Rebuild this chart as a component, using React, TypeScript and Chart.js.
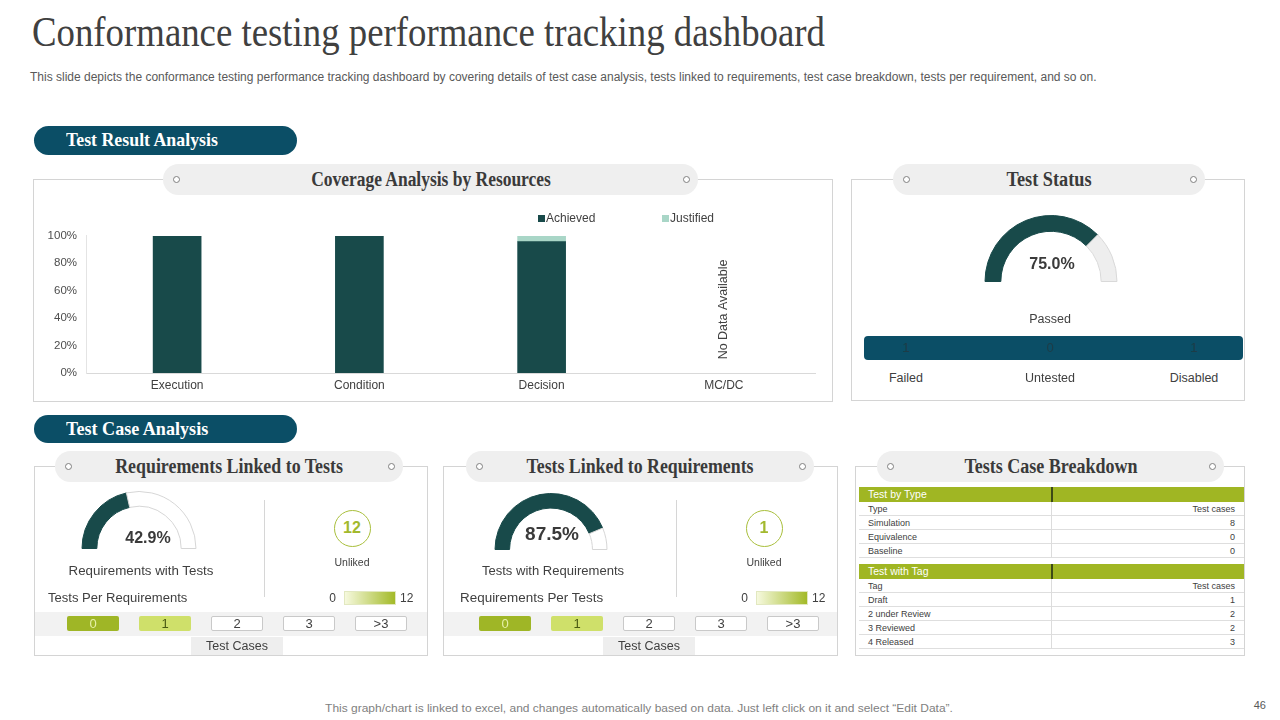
import React, { useEffect, useLayoutEffect, useRef } from 'react';
import { Chart, registerables } from 'chart.js';

Chart.register(...registerables);

// ---- data ----
const coverageCategories = ['Execution', 'Condition', 'Decision', 'MC/DC'];
const coverageSeries = ['Achieved', 'Justified'];
const achievedPct: (number | null)[] = [100, 100, 95.8, null];
const justifiedPct: (number | null)[] = [0, 0, 4.2, null];
const noDataLabel = 'No Data Available';

const passedPct = 75;
const statusLabels = ['Failed', 'Untested', 'Disabled'];
const statusCounts = [1, 0, 1];

const reqWithTestsPct = 42.9;
const reqUnlinked = 12;
const testsWithReqPct = 87.5;
const testsUnlinked = 1;
const unlinkedRange = [0, 12];
const linkBuckets = ['0', '1', '2', '3', '>3'];

const typeNames = ['Simulation', 'Equivalence', 'Baseline'];
const typeCounts = [8, 0, 0];
const tagNames = ['Draft', '2 under Review', '3 Reviewed', '4 Released'];
const tagCounts = [1, 2, 2, 3];

// ---- styling ----
const SANS = '"Liberation Sans", Arial, sans-serif';
const SERIF = '"Liberation Serif", "Times New Roman", serif';
const DARK_TEAL = '#184a4a';
const MINT = '#a9d6c7';
const PETROL = '#0b4e66';
const OLIVE = '#9fb626';
const LIME = '#cfe06a';
const BORDER = '#d4d4d4';

Chart.defaults.font.family = SANS;

type Align = 'left' | 'center' | 'right';
type TxtProps = {
  x: number; cy: number; text: string | number; size: number;
  color?: string; weight?: number | string; family?: string; align?: Align; fit?: number;
};

function Txt({ x, cy, text, size, color = '#404040', weight = 400, family = SANS, align = 'left', fit }: TxtProps) {
  const ref = useRef<HTMLSpanElement>(null);
  const shift = align === 'center' ? 'translateX(-50%)' : align === 'right' ? 'translateX(-100%)' : '';
  useLayoutEffect(() => {
    const el = ref.current;
    if (!el || !fit) return;
    const natural = el.offsetWidth;
    if (natural > 0) el.style.transform = `${shift} scaleX(${fit / natural})`;
  }, [fit, text, shift]);
  return (
    <span
      ref={ref}
      style={{
        position: 'absolute', left: x, top: cy - size * 0.6, fontSize: size,
        lineHeight: `${size * 1.2}px`, fontFamily: family, fontWeight: weight as any, color,
        whiteSpace: 'nowrap', transform: shift || undefined,
        transformOrigin: align === 'center' ? '50% 50%' : align === 'right' ? '100% 50%' : '0 50%',
      }}
    >
      {text}
    </span>
  );
}

function Box({ x1, y1, x2, y2, style }: { x1: number; y1: number; x2: number; y2: number; style?: React.CSSProperties }) {
  return <div style={{ position: 'absolute', left: x1, top: y1, width: x2 - x1, height: y2 - y1, boxSizing: 'border-box', ...style }} />;
}

function Dot({ cx, cy }: { cx: number; cy: number }) {
  return <Box x1={cx - 3.5} y1={cy - 3.5} x2={cx + 3.5} y2={cy + 3.5} style={{ border: '1px solid #808080', borderRadius: '50%', background: '#fff' }} />;
}

function HeaderPill({ x1, x2, y1, y2, title, titleW }: { x1: number; x2: number; y1: number; y2: number; title: string; titleW: number }) {
  const cy = (y1 + y2) / 2;
  return (
    <>
      <Box x1={x1} y1={y1} x2={x2} y2={y2} style={{ background: '#efefef', borderRadius: (y2 - y1) / 2 }} />
      <Dot cx={x1 + 13} cy={cy} />
      <Dot cx={x2 - 12} cy={cy} />
      <Txt x={(x1 + x2) / 2} cy={cy - 1} text={title} size={20} weight={700} family={SERIF} color="#3a3a3a" align="center" fit={titleW} />
    </>
  );
}

function SectionPill({ y1, y2, title, titleW }: { y1: number; y2: number; title: string; titleW: number }) {
  return (
    <>
      <Box x1={34} y1={y1} x2={297} y2={y2} style={{ background: PETROL, borderRadius: (y2 - y1) / 2 }} />
      <Txt x={66} cy={(y1 + y2) / 2} text={title} size={19} weight={700} family={SERIF} color="#ffffff" fit={titleW} />
    </>
  );
}

// Half-doughnut gauge drawn by Chart.js
function Gauge({ cx, baseY, r, pct, cutout, rest, restBorder }: {
  cx: number; baseY: number; r: number; pct: number; cutout: string; rest: string; restBorder: string;
}) {
  const ref = useRef<HTMLCanvasElement>(null);
  const w = 2 * r + 2;
  const h = r + 1;
  useEffect(() => {
    const chart = new Chart(ref.current!, {
      type: 'doughnut',
      data: {
        labels: ['value', 'rest'],
        datasets: [{
          data: [pct, 100 - pct],
          backgroundColor: [DARK_TEAL, rest],
          borderColor: [DARK_TEAL, restBorder],
          borderWidth: 1,
        }],
      },
      options: {
        animation: false,
        responsive: false,
        rotation: -90,
        circumference: 180,
        cutout,
        layout: { padding: 0 },
        plugins: { legend: { display: false }, tooltip: { enabled: false } },
      },
    });
    return () => chart.destroy();
  }, [pct, cutout, rest, restBorder]);
  return <canvas ref={ref} width={w} height={h} style={{ position: 'absolute', left: cx - w / 2, top: baseY - h, width: w, height: h }} />;
}

// Vertical note for categories without data
const noDataPlugin = {
  id: 'noDataNote',
  afterDatasetsDraw(chart: any) {
    const { ctx, chartArea, scales } = chart;
    const values = chart.data.datasets[0].data as (number | null)[];
    values.forEach((v, i) => {
      if (v !== null) return;
      const x = scales.x.getPixelForValue(i);
      const y = (chartArea.top + chartArea.bottom) / 2 + 5;
      ctx.save();
      ctx.translate(x, y);
      ctx.rotate(-Math.PI / 2);
      ctx.font = `12.5px ${SANS}`;
      ctx.fillStyle = '#404040';
      ctx.textAlign = 'center';
      ctx.textBaseline = 'middle';
      ctx.fillText(noDataLabel, 0, 0);
      ctx.restore();
    });
  },
};

function CoverageChart() {
  const ref = useRef<HTMLCanvasElement>(null);
  useEffect(() => {
    const chart = new Chart(ref.current!, {
      type: 'bar',
      data: {
        labels: coverageCategories,
        datasets: [
          { label: coverageSeries[0], data: achievedPct, backgroundColor: DARK_TEAL, barThickness: 48 },
          { label: coverageSeries[1], data: justifiedPct, backgroundColor: MINT, barThickness: 48 },
        ],
      },
      options: {
        animation: false,
        responsive: false,
        maintainAspectRatio: false,
        layout: { padding: { top: 8, right: 11, bottom: 6.6, left: 0 } },
        plugins: { legend: { display: false }, tooltip: { enabled: false } },
        scales: {
          x: {
            stacked: true,
            grid: { display: false, drawTicks: false },
            border: { display: true, color: '#d9d9d9' },
            ticks: { padding: 5, color: '#404040', font: { size: 12 } },
          },
          y: {
            stacked: true,
            min: 0,
            max: 100,
            grid: { display: false, drawTicks: false },
            border: { display: true, color: '#e4e4e4' },
            ticks: { stepSize: 20, padding: 9, color: '#4d4d4d', font: { size: 11.5 }, callback: (v: any) => `${v}%` },
            afterFit: (s: any) => { s.width = 50; },
          },
        },
      } as any,
      plugins: [noDataPlugin],
    });
    return () => chart.destroy();
  }, []);
  return <canvas ref={ref} width={790} height={184} style={{ position: 'absolute', left: 36, top: 220, width: 790, height: 184 }} />;
}

function LinkPanel({ dx, boxL, boxR, pct, pctSize, pctX, pctY, gaugeCx, gaugeBase, r, caption, captionW, perLabel, perW, unlinked }: {
  dx: number; boxL: number; boxR: number; pct: number; pctSize: number; pctX: number; pctY: number; gaugeCx: number; gaugeBase: number; r: number;
  caption: string; captionW: number; perLabel: string; perW: number; unlinked: number;
}) {
  const btnFill = [OLIVE, LIME, '#ffffff', '#ffffff', '#ffffff'];
  const btnText = ['#e6f0a8', '#4a5a12', '#404040', '#404040', '#404040'];
  return (
    <>
      <Gauge cx={gaugeCx} baseY={gaugeBase} r={r} pct={pct} cutout="74%" rest="#ffffff" restBorder="#d6d6d6" />
      <Txt x={pctX} cy={pctY} text={`${pct.toFixed(1)}%`} size={pctSize} weight={700} color="#3a3a3a" align="center" />
      <Txt x={141 + dx} cy={571} text={caption} size={12.5} align="center" fit={captionW} />
      <Box x1={264 + dx} y1={500} x2={265 + dx} y2={597} style={{ background: '#d6d6d6' }} />
      <Box x1={333.5 + dx} y1={509.5} x2={370.5 + dx} y2={546.5} style={{ border: '1px solid #a9bf3c', borderRadius: '50%' }} />
      <Txt x={352 + dx} cy={528} text={unlinked} size={16} weight={700} color="#a3b92e" align="center" />
      <Txt x={352 + dx} cy={562} text="Unliked" size={10.5} align="center" />
      <Txt x={336 + dx} cy={598} text={unlinkedRange[0]} size={12} align="right" />
      <Box x1={344 + dx} y1={591} x2={396 + dx} y2={605} style={{ background: 'linear-gradient(to right, #f6f9de, #a3ba28)', border: '1px solid #e2e8c0' }} />
      <Txt x={400 + dx} cy={598} text={unlinkedRange[1]} size={12} />
      <Txt x={48 + dx} cy={598} text={perLabel} size={12.5} fit={perW} />
      <Box x1={boxL + 1} y1={612} x2={boxR - 1} y2={636} style={{ background: '#f2f2f2' }} />
      {linkBuckets.map((b, i) => {
        const left = 67 + dx + i * 72;
        return (
          <React.Fragment key={b}>
            <Box x1={left} y1={616} x2={left + 52} y2={631} style={{ background: btnFill[i], borderRadius: 2, border: i > 1 ? '1px solid #c9c9c9' : 'none' }} />
            <Txt x={left + 26} cy={623.5} text={b} size={13} color={btnText[i]} align="center" />
          </React.Fragment>
        );
      })}
      <Box x1={191 + dx} y1={637} x2={283 + dx} y2={655} style={{ background: '#eeeeee' }} />
      <Txt x={237 + dx} cy={646.5} text="Test Cases" size={12.5} align="center" />
    </>
  );
}

function BreakdownTable() {
  const left = 859;
  const right = 1244;
  const split = 1051;
  const rowH = 14;
  const section = (top: number, title: string, head: string, names: string[], counts: number[]) => (
    <>
      <Box x1={left} y1={top} x2={right} y2={top + 15} style={{ background: '#a0b623' }} />
      <Box x1={split} y1={top} x2={split + 1.5} y2={top + 15} style={{ background: '#3d4a16' }} />
      <Txt x={868} cy={top + 7.5} text={title} size={10.5} color="#ffffff" />
      {[head, ...names].map((n, i) => {
        const y = top + 15 + i * rowH;
        return (
          <React.Fragment key={n}>
            <Box x1={left} y1={y + rowH - 1} x2={right} y2={y + rowH} style={{ background: '#dedede' }} />
            <Box x1={split} y1={y} x2={split + 1} y2={y + rowH} style={{ background: '#dcdcdc' }} />
            <Txt x={868} cy={y + 7} text={n} size={9} color="#404040" />
            <Txt x={1235} cy={y + 7} text={i === 0 ? 'Test cases' : counts[i - 1]} size={9} color="#404040" align="right" />
          </React.Fragment>
        );
      })}
    </>
  );
  return (
    <>
      {section(487, 'Test by Type', 'Type', typeNames, typeCounts)}
      {section(564, 'Test with Tag', 'Tag', tagNames, tagCounts)}
    </>
  );
}

export default function App() {
  const statusX = [906, 1050, 1194];
  return (
    <div style={{ position: 'absolute', left: 0, top: 0, width: 1280, height: 720, background: '#ffffff', overflow: 'hidden' }}>
      <Txt x={32} cy={32} text="Conformance testing performance tracking dashboard" size={42} family={SERIF} color="#404040" fit={793} />
      <Txt
        x={30} cy={77} size={12} color="#595959" fit={1067}
        text="This slide depicts the conformance testing performance tracking dashboard by covering details of test case analysis, tests linked to requirements, test case breakdown, tests per requirement, and so on."
      />

      <SectionPill y1={126} y2={155} title="Test Result Analysis" titleW={152} />

      {/* Coverage panel */}
      <Box x1={33} y1={179} x2={833} y2={402} style={{ border: `1px solid ${BORDER}` }} />
      <HeaderPill x1={163} x2={698} y1={164} y2={195} title="Coverage Analysis by Resources" titleW={240} />
      <CoverageChart />
      {coverageSeries.map((s, i) => {
        const lx = i === 0 ? 538 : 662;
        return (
          <React.Fragment key={s}>
            <Box x1={lx} y1={215} x2={lx + 7} y2={222} style={{ background: i === 0 ? DARK_TEAL : MINT }} />
            <Txt x={lx + 8} cy={218.5} text={s} size={12} color="#404040" />
          </React.Fragment>
        );
      })}

      {/* Test status panel */}
      <Box x1={851} y1={179} x2={1245} y2={401} style={{ border: `1px solid ${BORDER}` }} />
      <HeaderPill x1={893} x2={1205} y1={164} y2={195} title="Test Status" titleW={85} />
      <Gauge cx={1051} baseY={282} r={66} pct={passedPct} cutout="76%" rest="#eeeeee" restBorder="#d9d9d9" />
      <Txt x={1052} cy={264} text={`${passedPct.toFixed(1)}%`} size={16} weight={700} color="#3a3a3a" align="center" />
      <Txt x={1050} cy={319.5} text="Passed" size={12.5} align="center" />
      <Box x1={864} y1={336} x2={1243} y2={360} style={{ background: PETROL, borderRadius: 4 }} />
      {statusLabels.map((s, i) => (
        <React.Fragment key={s}>
          <Txt x={statusX[i]} cy={348} text={statusCounts[i]} size={13} color="#1d3c47" align="center" />
          <Txt x={statusX[i]} cy={378.5} text={s} size={12.5} align="center" />
        </React.Fragment>
      ))}

      <SectionPill y1={415} y2={443} title="Test Case Analysis" titleW={142} />

      {/* Requirements linked to tests */}
      <Box x1={34} y1={466} x2={428} y2={656} style={{ border: `1px solid ${BORDER}` }} />
      <HeaderPill x1={55} x2={403} y1={451} y2={482} title="Requirements Linked to Tests" titleW={228} />
      <LinkPanel
        dx={0} boxL={34} boxR={428} pct={reqWithTestsPct} pctSize={16} pctX={148} pctY={538} gaugeCx={139} gaugeBase={549} r={57}
        caption="Requirements  with Tests" captionW={145} perLabel="Tests Per Requirements" perW={139} unlinked={reqUnlinked}
      />

      {/* Tests linked to requirements */}
      <Box x1={443} y1={466} x2={838} y2={656} style={{ border: `1px solid ${BORDER}` }} />
      <HeaderPill x1={466} x2={814} y1={451} y2={482} title="Tests Linked to Requirements" titleW={227} />
      <LinkPanel
        dx={412} boxL={443} boxR={838} pct={testsWithReqPct} pctSize={19} pctX={552} pctY={534} gaugeCx={551} gaugeBase={550} r={56}
        caption="Tests with Requirements" captionW={142} perLabel="Requirements  Per Tests" perW={143} unlinked={testsUnlinked}
      />

      {/* Breakdown table */}
      <Box x1={855} y1={466} x2={1245} y2={656} style={{ border: `1px solid ${BORDER}` }} />
      <HeaderPill x1={877} x2={1224} y1={451} y2={482} title="Tests Case Breakdown" titleW={173} />
      <BreakdownTable />

      <Txt
        x={639} cy={709} size={11.5} color="#7f7f7f" align="center" fit={628}
        text={'This graph/chart is linked to excel,  and changes automatically based on data. Just left click on it and select \u201cEdit Data\u201d.'}
      />
      <Txt x={1266} cy={706} text="46" size={11} color="#595959" align="right" />
    </div>
  );
}
